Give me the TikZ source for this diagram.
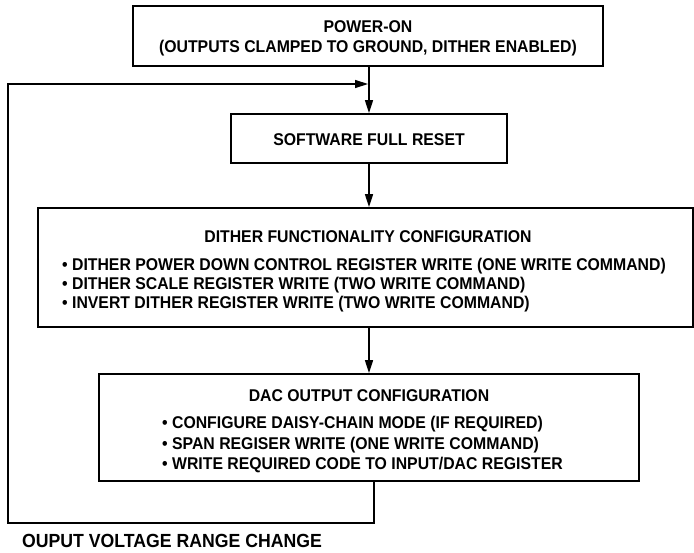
\documentclass[tikz,border=0pt]{standalone}
\usepackage{fontspec}
\setmainfont{Liberation Sans}[FakeStretch=0.93]
\usetikzlibrary{arrows.meta}
\begin{document}
\begin{tikzpicture}[x=1pt,y=-1pt,
  box/.style={draw, line width=1.8pt, inner sep=0pt},
  txt/.style={font=\fontsize{17}{20}\selectfont\bfseries, inner sep=0pt},
  lbltxt/.style={font=\fontsize{19}{22}\selectfont\bfseries, inner sep=0pt},
  flow/.style={line width=1.4pt, -{Triangle[length=13pt,width=8pt]}}]
\useasboundingbox (0,0) rectangle (694,552);
% boxes
\node[box, minimum width=470pt, minimum height=60pt] (b1) at (368,36) {};
\node[box, minimum width=276pt, minimum height=49pt] (b2) at (369,138.5) {};
\node[box, minimum width=655pt, minimum height=119pt] (b3) at (365.5,267.5) {};
\node[box, minimum width=540pt, minimum height=107pt] (b4) at (369,427.5) {};
% texts
\node[txt, anchor=base] (t1a) at (368,32) {POWER-ON};
\node[txt, anchor=base] (t1b) at (368,52) {(OUTPUTS CLAMPED TO GROUND, DITHER ENABLED)};
\node[txt, anchor=base] (t2) at (369,145) {SOFTWARE FULL RESET};
\node[txt, anchor=base] (t3) at (368,242) {DITHER FUNCTIONALITY CONFIGURATION};
\node[txt, anchor=base west] (t3a) at (62,270.5) {• DITHER POWER DOWN CONTROL REGISTER WRITE (ONE WRITE COMMAND)};
\node[txt, anchor=base west] (t3b) at (62,289.5) {• DITHER SCALE REGISTER WRITE (TWO WRITE COMMAND)};
\node[txt, anchor=base west] (t3c) at (62,308.5) {• INVERT DITHER REGISTER WRITE (TWO WRITE COMMAND)};
\node[txt, anchor=base] (t4) at (369,401) {DAC OUTPUT CONFIGURATION};
\node[txt, anchor=base west] (t4a) at (162,428) {• CONFIGURE DAISY-CHAIN MODE (IF REQUIRED)};
\node[txt, anchor=base west] (t4b) at (162,449) {• SPAN REGISER WRITE (ONE WRITE COMMAND)};
\node[txt, anchor=base west] (t4c) at (162,469) {• WRITE REQUIRED CODE TO INPUT/DAC REGISTER};
\node[lbltxt, anchor=base west] (lbl) at (22,547) {OUPUT VOLTAGE RANGE CHANGE};
% main flow
\coordinate (m) at (369,0);
\draw[flow] (b1.south -| m) -- (b2.north -| m);
\draw[flow] (b2.south -| m) -- (b3.north -| m);
\draw[flow] (b3.south -| m) -- (b4.north -| m);
% feedback loop
\coordinate (fb) at (374,0);
\coordinate (c1) at (374,523);
\coordinate (c2) at (8,523);
\coordinate (c3) at (8,84);
\coordinate (j) at (368,84);
\draw[flow] (b4.south -| fb) -- (c1) -- (c2) -- (c3) -- (j);
\end{tikzpicture}
\end{document}
